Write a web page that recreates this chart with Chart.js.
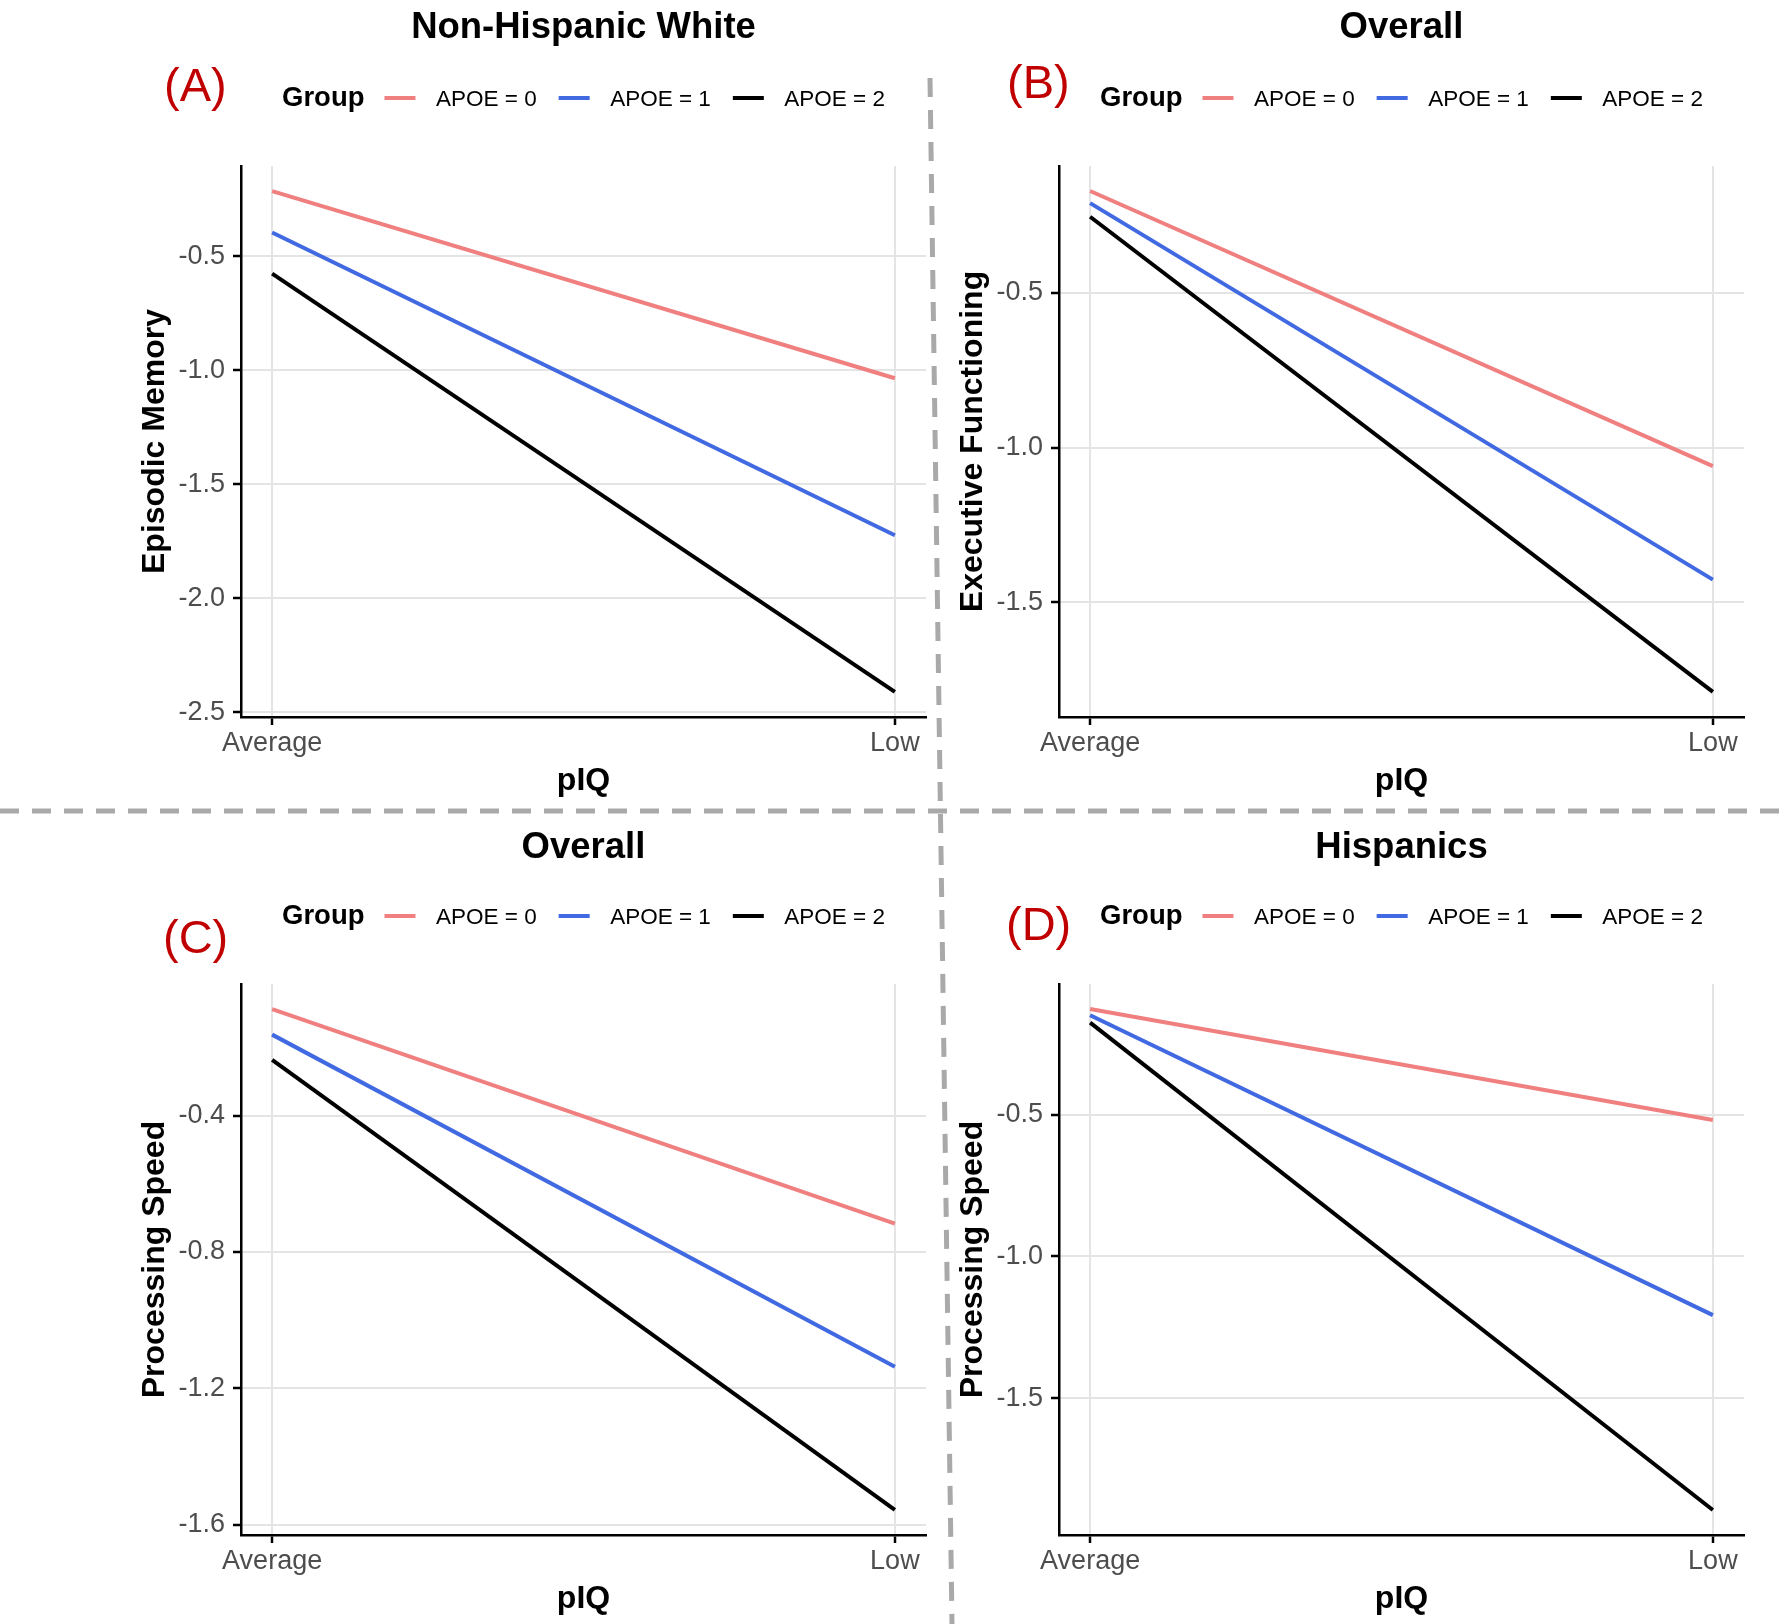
<!DOCTYPE html>
<html>
<head>
<meta charset="utf-8">
<script src="https://cdn.jsdelivr.net/npm/chart.js@4.4.1/dist/chart.umd.min.js"></script>
<style>
html, body { margin:0; padding:0; background:#fff; overflow:hidden; width:1784px; height:1624px; }
#wrap { position:relative; width:1784px; height:1624px; background:#fff; }
#wrap svg { position:absolute; left:0; top:0; }
#wrap canvas { position:absolute; }
</style>
</head>
<body>
<div id="wrap">
  <svg width="1784" height="1624" viewBox="0 0 1784 1624">
    <line x1="0" y1="811" x2="1784" y2="811" stroke="#A9A9A9" stroke-width="5" stroke-dasharray="19 13"/>
    <line x1="930" y1="78" x2="952" y2="1624" stroke="#A9A9A9" stroke-width="5" stroke-dasharray="19 13"/>
  </svg>
  <canvas id="panelA" width="940" height="806" style="left:0px;top:0px"></canvas>
  <canvas id="panelB" width="940" height="806" style="left:818px;top:0px"></canvas>
  <canvas id="panelC" width="940" height="806" style="left:0px;top:818px"></canvas>
  <canvas id="panelD" width="940" height="806" style="left:818px;top:818px"></canvas>
</div>
<script>
// ---------- data ----------
const pIQLevels = ['Average', 'Low'];
const pIQPositions = [0, 1];
const groupLabels = ['APOE = 0', 'APOE = 1', 'APOE = 2'];
const groupColors = ['#F08080', '#4169E1', '#000000'];

// (A) Non-Hispanic White - Episodic Memory
const memoryNHW_apoe0 = [-0.213, -1.034];
const memoryNHW_apoe1 = [-0.395, -1.723];
const memoryNHW_apoe2 = [-0.575, -2.410];
const ticksMemoryNHW = [-2.5, -2.0, -1.5, -1.0, -0.5];

// (B) Overall - Executive Functioning
const execOverall_apoe0 = [-0.171, -1.060];
const execOverall_apoe1 = [-0.210, -1.427];
const execOverall_apoe2 = [-0.254, -1.790];
const ticksExecOverall = [-1.5, -1.0, -0.5];

// (C) Overall - Processing Speed
const speedOverall_apoe0 = [-0.088, -0.717];
const speedOverall_apoe1 = [-0.163, -1.136];
const speedOverall_apoe2 = [-0.237, -1.556];
const ticksSpeedOverall = [-1.6, -1.2, -0.8, -0.4];

// (D) Hispanics - Processing Speed
const speedHisp_apoe0 = [-0.128, -0.519];
const speedHisp_apoe1 = [-0.150, -1.207];
const speedHisp_apoe2 = [-0.176, -1.894];
const ticksSpeedHisp = [-1.5, -1.0, -0.5];

// ---------- styling ----------
const FONT = "'Liberation Sans', Arial, Helvetica, sans-serif";
Chart.defaults.font.family = FONT;
const GRID = '#E4E4E4';

const panelDecor = {
  id: 'panelDecor',
  afterDraw(chart, args, opts) {
    const ctx = chart.ctx;
    const ca = chart.chartArea;
    const cx = (ca.left + ca.right) / 2;
    ctx.save();
    ctx.textBaseline = 'alphabetic';
    // title
    ctx.fillStyle = '#000';
    ctx.textAlign = 'center';
    ctx.font = 'bold 36.5px ' + FONT;
    ctx.fillText(opts.title, cx, opts.titleBaseline);
    // legend
    const boldFont = 'bold 27.5px ' + FONT;
    const labFont = '22.5px ' + FONT;
    ctx.font = boldFont;
    const gW = ctx.measureText('Group').width;
    ctx.font = labFont;
    const ds = chart.data.datasets;
    const lw = ds.map(d => ctx.measureText(d.label).width);
    const seg = 31, gapAfterTitle = 20, gapSegText = 20.5, gapTextSeg = 22;
    let total = gW;
    ds.forEach((d, i) => { total += (i === 0 ? gapAfterTitle : gapTextSeg) + seg + gapSegText + lw[i]; });
    let x = cx - total / 2;
    ctx.textAlign = 'left';
    ctx.font = boldFont;
    ctx.fillStyle = '#000';
    ctx.fillText('Group', x, opts.legendBaseline);
    x += gW;
    ds.forEach((d, i) => {
      x += (i === 0 ? gapAfterTitle : gapTextSeg);
      ctx.beginPath();
      ctx.strokeStyle = d.borderColor;
      ctx.lineWidth = 4;
      ctx.lineCap = 'butt';
      ctx.moveTo(x, opts.legendLineY);
      ctx.lineTo(x + seg, opts.legendLineY);
      ctx.stroke();
      x += seg + gapSegText;
      ctx.font = labFont;
      ctx.fillStyle = '#000';
      ctx.fillText(d.label, x, opts.legendBaseline);
      x += lw[i];
    });
    // panel letter
    ctx.font = '47px ' + FONT;
    ctx.fillStyle = '#C00000';
    ctx.textAlign = 'left';
    ctx.fillText(opts.label, opts.labelX, opts.labelBaseline);
    ctx.restore();
  }
};

function makePanel(id, yTitle, series, yTicks, deco) {
  const all = series.flat();
  const lo = Math.min(...all), hi = Math.max(...all);
  const pad = (hi - lo) * 0.05;
  const gridOpts = { color: GRID, lineWidth: 2, drawTicks: true, tickLength: 8, tickColor: '#000', tickWidth: 2.5 };
  const borderOpts = { display: true, color: '#000', width: 2.5 };
  return new Chart(document.getElementById(id), {
    type: 'line',
    data: {
      datasets: series.map((vals, i) => ({
        label: groupLabels[i],
        data: vals.map((v, j) => ({ x: pIQPositions[j], y: v })),
        borderColor: groupColors[i],
        backgroundColor: groupColors[i],
        borderWidth: 4,
        pointRadius: 0,
        pointHoverRadius: 0,
        tension: 0,
        fill: false,
        order: 3 - i
      }))
    },
    options: {
      responsive: false,
      animation: false,
      devicePixelRatio: 1,
      events: [],
      layout: { padding: { left: 0, top: 166, right: 14, bottom: 0 } },
      plugins: {
        legend: { display: false },
        title: { display: false },
        tooltip: { enabled: false },
        panelDecor: deco
      },
      scales: {
        x: {
          type: 'linear',
          min: -0.05,
          max: 1.05,
          offset: false,
          afterBuildTicks: s => { s.ticks = pIQPositions.map(v => ({ value: v })); },
          afterFit: s => { s.height = 89; s.paddingLeft = 0; s.paddingRight = 0; },
          ticks: {
            callback: (v, i) => pIQLevels[i],
            color: '#4D4D4D',
            font: { size: 27 },
            padding: 2,
            maxRotation: 0,
            autoSkip: false
          },
          grid: gridOpts,
          border: borderOpts,
          title: { display: true, text: 'pIQ', color: '#000', font: { size: 32, weight: 'bold' }, padding: { top: 0, bottom: 6 } }
        },
        y: {
          type: 'linear',
          min: lo - pad,
          max: hi + pad,
          afterBuildTicks: s => { s.ticks = yTicks.map(v => ({ value: v })); },
          afterFit: s => { s.width = 241; s.paddingTop = 0; s.paddingBottom = 0; },
          ticks: {
            callback: v => Number(v).toFixed(1),
            color: '#4D4D4D',
            font: { size: 27 },
            padding: 8,
            autoSkip: false
          },
          grid: gridOpts,
          border: borderOpts,
          title: { display: true, text: yTitle, color: '#000', font: { size: 32, weight: 'bold' }, padding: { top: 136, bottom: 0 } }
        }
      }
    },
    plugins: [panelDecor]
  });
}

makePanel('panelA', 'Episodic Memory',
  [memoryNHW_apoe0, memoryNHW_apoe1, memoryNHW_apoe2], ticksMemoryNHW,
  { title: 'Non-Hispanic White', titleBaseline: 38, legendBaseline: 106, legendLineY: 98, label: '(A)', labelX: 164, labelBaseline: 101 });

makePanel('panelB', 'Executive Functioning',
  [execOverall_apoe0, execOverall_apoe1, execOverall_apoe2], ticksExecOverall,
  { title: 'Overall', titleBaseline: 38, legendBaseline: 106, legendLineY: 98, label: '(B)', labelX: 189, labelBaseline: 98 });

makePanel('panelC', 'Processing Speed',
  [speedOverall_apoe0, speedOverall_apoe1, speedOverall_apoe2], ticksSpeedOverall,
  { title: 'Overall', titleBaseline: 40, legendBaseline: 106, legendLineY: 98, label: '(C)', labelX: 163, labelBaseline: 135 });

makePanel('panelD', 'Processing Speed',
  [speedHisp_apoe0, speedHisp_apoe1, speedHisp_apoe2], ticksSpeedHisp,
  { title: 'Hispanics', titleBaseline: 40, legendBaseline: 106, legendLineY: 98, label: '(D)', labelX: 188, labelBaseline: 122 });
</script>
</body>
</html>
